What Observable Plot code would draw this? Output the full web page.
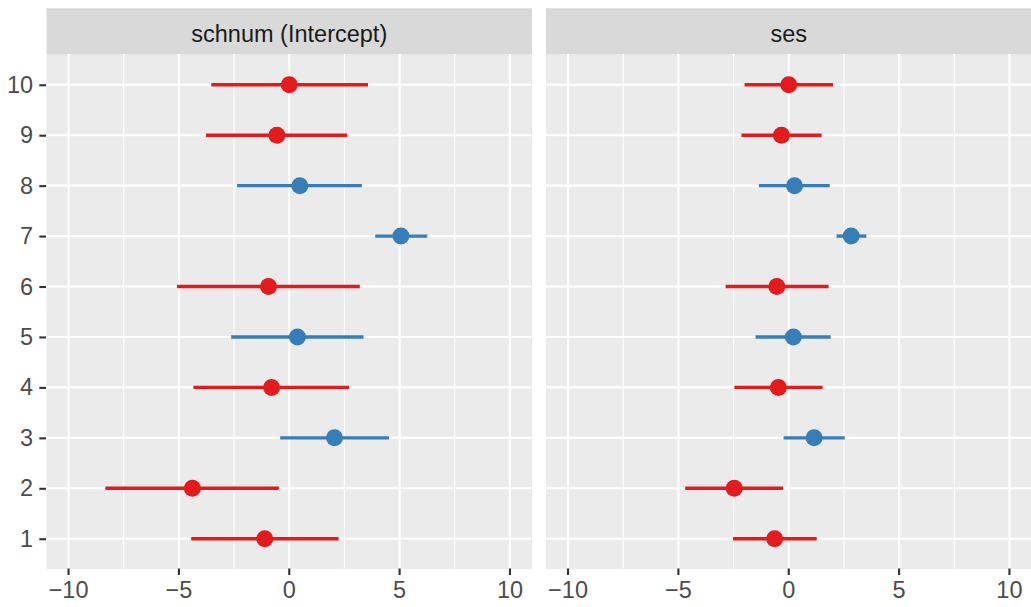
<!DOCTYPE html>
<html>
<head>
<meta charset="utf-8">
<script src="https://cdn.jsdelivr.net/npm/d3@7"></script>
<script src="https://cdn.jsdelivr.net/npm/@observablehq/plot@0.6"></script>
<style>
  html, body { margin: 0; padding: 0; background: #ffffff; }
  #chart { width: 1031px; height: 607px; }
</style>
</head>
<body>
<div id="chart"></div>
<script>
// Facet panels (one per model term)
const terms = ["schnum (Intercept)", "ses"];

// School ids on the y axis
const ids = [1, 2, 3, 4, 5, 6, 7, 8, 9, 10];

// Group membership of each school (drives colour)
const groups = ["A", "A", "B", "A", "B", "A", "B", "B", "A", "A"];

// Intercept estimates and interval bounds, by school id
const interceptEst = [-1.11, -4.39, 2.05, -0.80, 0.37, -0.94, 5.06, 0.48, -0.56, 0.00];
const interceptLo  = [-4.42, -8.31, -0.39, -4.32, -2.61, -5.06, 3.92, -2.34, -3.75, -3.51];
const interceptHi  = [ 2.26, -0.45, 4.54, 2.73, 3.39, 3.22, 6.28, 3.31, 2.65, 3.59];

// ses slope estimates and interval bounds, by school id
const sesEst = [-0.64, -2.47, 1.15, -0.47, 0.21, -0.54, 2.83, 0.26, -0.33, 0.00];
const sesLo  = [-2.50, -4.67, -0.21, -2.44, -1.48, -2.84, 2.19, -1.33, -2.12, -1.98];
const sesHi  = [ 1.29, -0.23, 2.56, 1.56, 1.92, 1.83, 3.54, 1.88, 1.51, 2.03];

// Axis tick values
const xTicks = [-10, -5, 0, 5, 10];
const xMinor = [-7.5, -2.5, 2.5, 7.5];
const yTicks = ids;

// Long table built from the arrays above
const rows = [];
ids.forEach((id, i) => {
  rows.push({term: terms[0], id, group: groups[i], est: interceptEst[i], lo: interceptLo[i], hi: interceptHi[i]});
  rows.push({term: terms[1], id, group: groups[i], est: sesEst[i], lo: sesLo[i], hi: sesHi[i]});
});

const minus = d => d < 0 ? "\u2212" + Math.abs(d) : String(d);
const FONT = 23.5;

const chart = Plot.plot({
  width: 1031,
  height: 607,
  marginLeft: 46,
  marginRight: 0,
  marginTop: 54,
  marginBottom: 38.5,
  style: {fontFamily: "'Liberation Sans', Arial, Helvetica, sans-serif", fontSize: FONT + "px", background: "#ffffff"},
  fx: {domain: terms, axis: null, paddingInner: 0.028, paddingOuter: 0, round: false, label: null},
  x: {domain: [-11, 11], label: null},
  y: {domain: [0.4, 10.6], label: null},
  color: {domain: ["A", "B"], range: ["#E41A1C", "#377EB8"]},
  marks: [
    // panel background and strip header
    Plot.frame({fill: "#EBEBEB"}),
    Plot.frame({fill: "#D9D9D9", insetTop: -46.3, insetBottom: 514.5}),
    Plot.text(terms, {fx: d => d, text: d => d, frameAnchor: "top", dy: -29, fill: "#1A1A1A", fontSize: FONT}),
    // grid
    Plot.gridX({ticks: xMinor, stroke: "#ffffff", strokeOpacity: 1, strokeWidth: 1.05}),
    Plot.gridX({ticks: xTicks, stroke: "#ffffff", strokeOpacity: 1, strokeWidth: 2.1}),
    Plot.gridY({ticks: yTicks, stroke: "#ffffff", strokeOpacity: 1, strokeWidth: 2.1}),
    // axes
    Plot.axisX({ticks: xTicks, tickFormat: minus, tickSize: 6.5, tickPadding: 6.2, stroke: "#333333", strokeWidth: 2.1, fill: "#4D4D4D", fontSize: FONT, label: null}),
    Plot.axisY({ticks: yTicks, tickSize: 6.7, tickPadding: 6.7, dy: 0.5, stroke: "#333333", strokeWidth: 2.1, fill: "#4D4D4D", fontSize: FONT, label: null}),
    // interval and estimate per school
    Plot.ruleY(rows, {fx: "term", y: "id", x1: "lo", x2: "hi", stroke: "group", strokeWidth: 3.4}),
    Plot.dot(rows, {fx: "term", y: "id", x: "est", fill: "group", r: 8.5, stroke: null})
  ]
});

document.getElementById("chart").appendChild(chart);
</script>
</body>
</html>
